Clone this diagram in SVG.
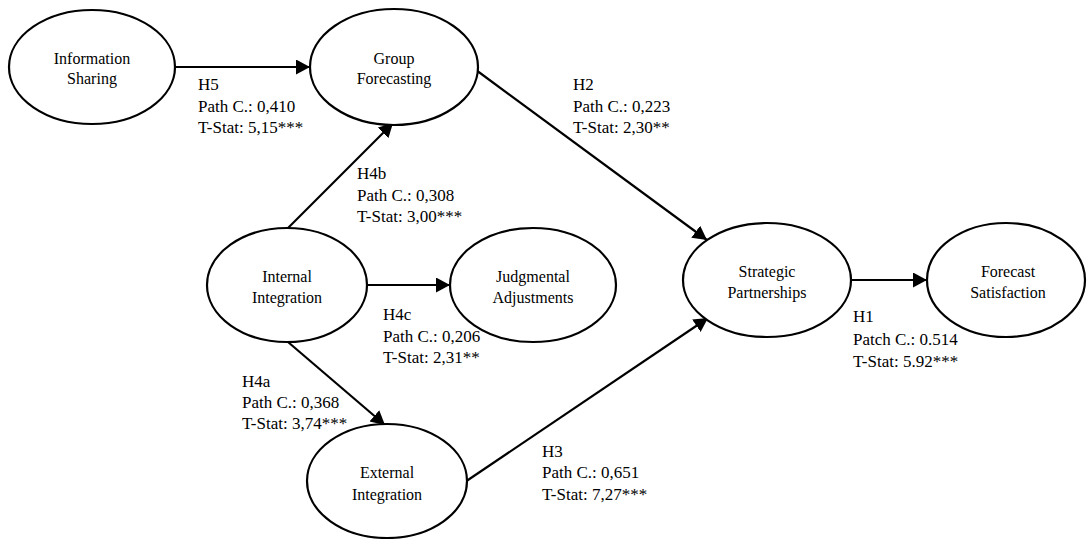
<svg xmlns="http://www.w3.org/2000/svg" width="1088" height="539" viewBox="0 0 1088 539">
<style>
.node ellipse{fill:#fff;stroke:#000;stroke-width:2.2}
.node text{font-family:'Liberation Serif','Times New Roman',serif;font-size:16px;fill:#000;text-anchor:middle}
.lbl{font-family:'Liberation Serif','Times New Roman',serif;font-size:17px;fill:#000}
.conn line{stroke:#000;stroke-width:2.2;marker-end:url(#arr)}
</style>
<defs>
<marker id="arr" markerUnits="userSpaceOnUse" markerWidth="16" markerHeight="16" refX="14" refY="7.5" orient="auto">
<path d="M0,0 L14,7.5 L0,15 z" fill="#000"/>
</marker>
</defs>
<rect width="1088" height="539" fill="#fff"/>
<g id="connectors" class="conn">
<line x1="175" y1="67" x2="310" y2="67"/>
<line x1="476" y1="70" x2="707" y2="240"/>
<line x1="288" y1="228" x2="393" y2="123"/>
<line x1="367" y1="285" x2="450" y2="285"/>
<line x1="288" y1="342" x2="385" y2="425"/>
<line x1="465" y1="482" x2="708" y2="318"/>
<line x1="852" y1="280" x2="927" y2="280"/>
</g>
<g id="info-sharing" class="node"><ellipse cx="92" cy="67" rx="83" ry="57"/><text x="92" y="64">Information</text><text x="92" y="84">Sharing</text></g>
<g id="group-forecasting" class="node"><ellipse cx="394" cy="67" rx="84" ry="58"/><text x="394" y="64">Group</text><text x="394" y="84">Forecasting</text></g>
<g id="internal-integration" class="node"><ellipse cx="287" cy="285" rx="80" ry="57"/><text x="287" y="282">Internal</text><text x="287" y="303">Integration</text></g>
<g id="judgmental-adjustments" class="node"><ellipse cx="533" cy="285" rx="83" ry="57"/><text x="533" y="282">Judgmental</text><text x="533" y="303">Adjustments</text></g>
<g id="external-integration" class="node"><ellipse cx="387" cy="481" rx="80" ry="57"/><text x="387" y="478">External</text><text x="387" y="500">Integration</text></g>
<g id="strategic-partnerships" class="node"><ellipse cx="767" cy="280" rx="84" ry="57"/><text x="767" y="277">Strategic</text><text x="767" y="298">Partnerships</text></g>
<g id="forecast-satisfaction" class="node"><ellipse cx="1006" cy="280" rx="79" ry="57"/><text x="1008" y="277">Forecast</text><text x="1008" y="298">Satisfaction</text></g>
<g id="labels">
<text class="lbl" x="198" y="90">H5</text><text class="lbl" x="198" y="112">Path C.: 0,410</text><text class="lbl" x="198" y="133">T-Stat: 5,15***</text>
<text class="lbl" x="573" y="90">H2</text><text class="lbl" x="573" y="112">Path C.: 0,223</text><text class="lbl" x="573" y="133">T-Stat: 2,30**</text>
<text class="lbl" x="357" y="179">H4b</text><text class="lbl" x="357" y="201">Path C.: 0,308</text><text class="lbl" x="357" y="222">T-Stat: 3,00***</text>
<text class="lbl" x="383" y="320">H4c</text><text class="lbl" x="383" y="342">Path C.: 0,206</text><text class="lbl" x="383" y="363">T-Stat: 2,31**</text>
<text class="lbl" x="242" y="387">H4a</text><text class="lbl" x="242" y="408">Path C.: 0,368</text><text class="lbl" x="242" y="429">T-Stat: 3,74***</text>
<text class="lbl" x="542" y="457">H3</text><text class="lbl" x="542" y="478">Path C.: 0,651</text><text class="lbl" x="542" y="500">T-Stat: 7,27***</text>
<text class="lbl" x="853" y="322">H1</text><text class="lbl" x="853" y="345">Patch C.: 0.514</text><text class="lbl" x="853" y="367">T-Stat: 5.92***</text>
</g>
</svg>
